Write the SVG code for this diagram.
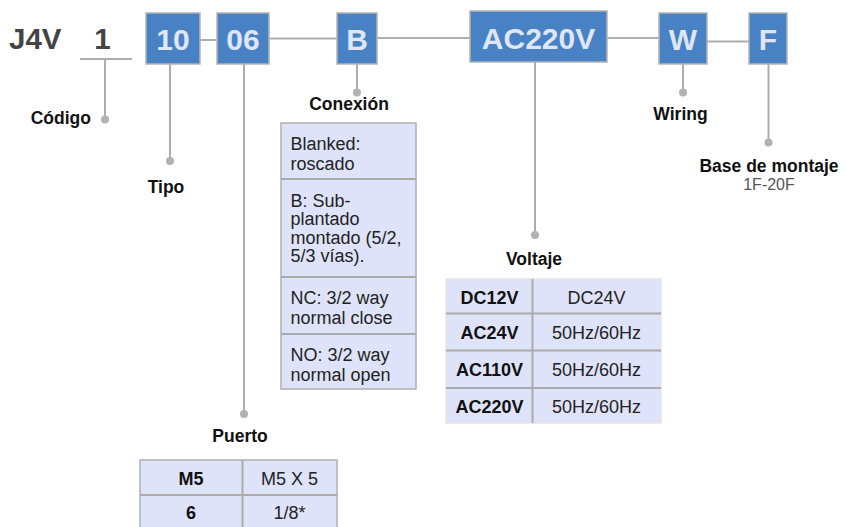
<svg xmlns="http://www.w3.org/2000/svg" width="846" height="527" viewBox="0 0 846 527">
<style>
.box{fill:#4882c4;stroke:#b4b4b4;stroke-width:1.5}
.bt{font-family:"Liberation Sans",Arial,sans-serif;font-weight:bold;font-size:30px;fill:#dfe6f6;text-anchor:middle}
.ln{stroke:#adadad;stroke-width:2;fill:none}
.dot{fill:#b2b2b2}
.lbl{font-family:"Liberation Sans",Arial,sans-serif;font-weight:bold;font-size:17.5px;fill:#111}
.tx{font-family:"Liberation Sans",Arial,sans-serif;font-size:18px;fill:#222}
.tb{font-family:"Liberation Sans",Arial,sans-serif;font-size:18px;font-weight:bold;fill:#111;text-anchor:middle}
.tc{font-family:"Liberation Sans",Arial,sans-serif;font-size:18px;fill:#222;text-anchor:middle}
.tbl{fill:#dfe3f9;stroke:#b0b0b0;stroke-width:1.5}
.sep{stroke:#aaaaaa;stroke-width:2}
.big{font-family:"Liberation Sans",Arial,sans-serif;font-weight:bold;font-size:29.5px;fill:#444}
</style>
<g id="connectors">
<line class="ln" x1="200" y1="40" x2="217" y2="40"/>
<line class="ln" x1="269" y1="38.5" x2="337" y2="38.5"/>
<line class="ln" x1="377" y1="38" x2="470" y2="38"/>
<line class="ln" x1="607" y1="38" x2="659" y2="38"/>
<line class="ln" x1="707" y1="41.5" x2="749" y2="41.5"/>
<line class="ln" x1="80" y1="59" x2="132" y2="59"/>
<line class="ln" x1="105" y1="59" x2="105" y2="119"/>
<circle class="dot" cx="105" cy="119.5" r="4"/>
<line class="ln" x1="170" y1="64" x2="170" y2="161"/>
<circle class="dot" cx="170" cy="161" r="4"/>
<line class="ln" x1="244" y1="64" x2="244" y2="414"/>
<circle class="dot" cx="244" cy="414" r="4"/>
<line class="ln" x1="357" y1="64" x2="357" y2="92.5"/>
<circle class="dot" cx="357" cy="92.5" r="4"/>
<line class="ln" x1="535" y1="62" x2="535" y2="235"/>
<circle class="dot" cx="535" cy="235" r="4"/>
<line class="ln" x1="683" y1="64" x2="683" y2="92.5"/>
<circle class="dot" cx="683" cy="92.5" r="4"/>
<line class="ln" x1="768.5" y1="64" x2="768.5" y2="142.5"/>
<circle class="dot" cx="768.5" cy="142.5" r="4"/>
</g>
<g id="title">
<text class="big" x="9" y="49">J4V</text>
<text class="big" x="102.5" y="49" text-anchor="middle">1</text>
</g>
<g id="box-10"><rect class="box" x="146" y="13" width="54" height="51"/><text class="bt" x="173" y="50">10</text></g>
<g id="box-06"><rect class="box" x="217" y="13" width="52" height="51"/><text class="bt" x="243" y="50">06</text></g>
<g id="box-B"><rect class="box" x="337" y="13" width="40" height="51"/><text class="bt" x="357" y="50">B</text></g>
<g id="box-AC220V"><rect class="box" x="470" y="11" width="137" height="51"/><text class="bt" x="538.5" y="49">AC220V</text></g>
<g id="box-W"><rect class="box" x="659" y="13" width="48" height="51"/><text class="bt" x="683" y="50">W</text></g>
<g id="box-F"><rect class="box" x="749" y="13" width="38" height="51"/><text class="bt" x="768" y="50">F</text></g>
<g id="codigo"><text class="lbl" x="91" y="123.5" text-anchor="end">Código</text></g>
<g id="tipo"><text class="lbl" x="166" y="193" text-anchor="middle">Tipo</text></g>
<g id="conexion">
<text class="lbl" x="349" y="110" text-anchor="middle">Conexión</text>
<rect class="tbl" x="281" y="123" width="135" height="266"/>
<line class="sep" x1="281" y1="179" x2="416" y2="179"/>
<line class="sep" x1="281" y1="277" x2="416" y2="277"/>
<line class="sep" x1="281" y1="334" x2="416" y2="334"/>
<text class="tx" x="290.5" y="150">Blanked:</text>
<text class="tx" x="290.5" y="170">roscado</text>
<text class="tx" x="290.5" y="206.5">B: Sub-</text>
<text class="tx" x="290.5" y="225">plantado</text>
<text class="tx" x="290.5" y="243.5">montado (5/2,</text>
<text class="tx" x="290.5" y="262">5/3 vías).</text>
<text class="tx" x="290.5" y="304">NC: 3/2 way</text>
<text class="tx" x="290.5" y="323.5">normal close</text>
<text class="tx" x="290.5" y="361">NO: 3/2 way</text>
<text class="tx" x="290.5" y="380.5">normal open</text>
</g>
<g id="voltaje">
<text class="lbl" x="534" y="265" text-anchor="middle">Voltaje</text>
<rect x="446" y="279" width="215" height="144" fill="#dfe3f9" stroke="#e6e6e6" stroke-width="1.5"/>
<line class="sep" x1="532.5" y1="279" x2="532.5" y2="423"/>
<line class="sep" x1="446" y1="313.5" x2="661" y2="313.5"/>
<line class="sep" x1="446" y1="350.5" x2="661" y2="350.5"/>
<line class="sep" x1="446" y1="388" x2="661" y2="388"/>
<text class="tb" x="489.5" y="303.5">DC12V</text>
<text class="tc" x="596.5" y="303.5">DC24V</text>
<text class="tb" x="489.5" y="338.5">AC24V</text>
<text class="tc" x="596.5" y="338.5">50Hz/60Hz</text>
<text class="tb" x="489.5" y="376">AC110V</text>
<text class="tc" x="596.5" y="376">50Hz/60Hz</text>
<text class="tb" x="489.5" y="412.5">AC220V</text>
<text class="tc" x="596.5" y="412.5">50Hz/60Hz</text>
</g>
<g id="wiring"><text class="lbl" x="680.5" y="120" text-anchor="middle">Wiring</text></g>
<g id="base">
<text class="lbl" x="769" y="172" text-anchor="middle">Base de montaje</text>
<text x="769" y="190" text-anchor="middle" font-family="Liberation Sans, Arial, sans-serif" font-size="16" fill="#555">1F-20F</text>
</g>
<g id="puerto">
<text class="lbl" x="240" y="442" text-anchor="middle">Puerto</text>
<rect class="tbl" x="140" y="460" width="197" height="80"/>
<line class="sep" x1="242.5" y1="460" x2="242.5" y2="527"/>
<line class="sep" x1="140" y1="495" x2="337" y2="495"/>
<text class="tb" x="191" y="485">M5</text>
<text class="tc" x="289.5" y="485">M5 X 5</text>
<text class="tb" x="191" y="519">6</text>
<text class="tc" x="289.5" y="519">1/8*</text>
</g>
</svg>
